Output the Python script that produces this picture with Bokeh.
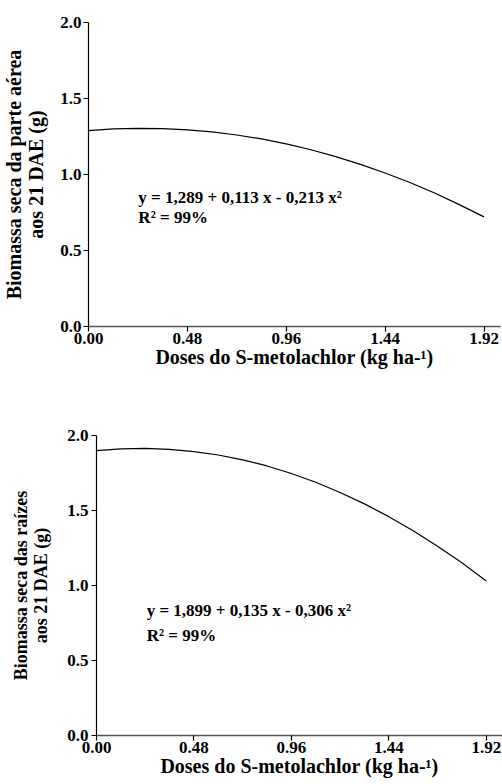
from bokeh.plotting import figure
from bokeh.layouts import column, row
from bokeh.models import FixedTicker, NumeralTickFormatter, ColumnDataSource
from bokeh.core.properties import value
from bokeh.embed import file_html
from bokeh.resources import INLINE

# Data (fitted curves)
doses = [0.00, 0.12, 0.24, 0.36, 0.48, 0.60, 0.72, 0.84, 0.96,
         1.08, 1.20, 1.32, 1.44, 1.56, 1.68, 1.80, 1.92]
parte_aerea = [1.289, 1.300, 1.304, 1.302, 1.294, 1.280, 1.260, 1.234, 1.201,
               1.163, 1.118, 1.067, 1.010, 0.947, 0.878, 0.802, 0.721]
raizes = [1.899, 1.911, 1.914, 1.908, 1.893, 1.870, 1.838, 1.797, 1.747,
          1.688, 1.620, 1.544, 1.459, 1.365, 1.262, 1.151, 1.030]

x_ticks = [0.00, 0.48, 0.96, 1.44, 1.92]
y_ticks = [0.0, 0.5, 1.0, 1.5, 2.0]

x_title = "Doses do S-metolachlor (kg ha-\u00b9)"
y_title_top = "Biomassa seca da parte a\u00e9rea\naos 21 DAE (g)"
y_title_bot = "Biomassa seca das ra\u00edzes\naos 21 DAE (g)"
eq_top = ["y = 1,289 + 0,113 x - 0,213 x\u00b2", "R\u00b2 = 99%"]
eq_bot = ["y = 1,899 + 0,135 x - 0,306 x\u00b2", "R\u00b2 = 99%"]
eq_top_x = [0.242, 0.242]
eq_top_y = [0.847, 0.715]
eq_bot_x = [0.247, 0.247]
eq_bot_y = [0.835, 0.669]

FONT = "Liberation Serif"


def make_fig(width, height, mb_left, mb_top, mb_bottom, mb_right, ys, ytitle,
             ytitle_size, ytick_standoff, ylab_standoff, eq_x, eq_y, eq_txt):
    p = figure(width=width, height=height, x_range=(0, 2.0), y_range=(0, 2.0),
               output_backend="svg", toolbar_location=None,
               min_border_left=mb_left, min_border_top=mb_top,
               min_border_bottom=mb_bottom, min_border_right=mb_right)
    p.outline_line_color = None
    p.xgrid.visible = False
    p.ygrid.visible = False
    p.background_fill_color = "white"
    p.border_fill_color = "white"

    p.line(x=doses, y=ys, line_color="black", line_width=1.2)

    src = ColumnDataSource(dict(x=eq_x, y=eq_y, t=eq_txt))
    p.text(x="x", y="y", text="t", source=src, text_font=value(FONT),
           text_font_style="bold", text_font_size="17px", text_color="black",
           text_align="left", text_baseline="middle")

    for ax in (p.xaxis, p.yaxis):
        ax.major_label_text_font = FONT
        ax.major_label_text_font_style = "bold"
        ax.major_label_text_font_size = "17px"
        ax.major_label_text_color = "black"
        ax.axis_label_text_font = FONT
        ax.axis_label_text_font_style = "bold"
        ax.axis_label_text_color = "black"
        ax.axis_label_text_line_height = 1.0
        ax.minor_tick_line_color = None
        ax.major_tick_in = 0
        ax.major_tick_out = 5
        ax.major_tick_line_color = "black"
        ax.major_tick_line_width = 1.2

    p.xaxis.ticker = FixedTicker(ticks=x_ticks)
    p.xaxis.formatter = NumeralTickFormatter(format="0.00")
    p.xaxis.axis_label = x_title
    p.xaxis.axis_label_text_font_size = "20px"
    p.xaxis.axis_line_color = "#555555"
    p.xaxis.axis_line_width = 1.6
    p.xaxis.major_label_standoff = 1
    p.xaxis.axis_label_standoff = -1

    p.yaxis.ticker = FixedTicker(ticks=y_ticks)
    p.yaxis.formatter = NumeralTickFormatter(format="0.0")
    p.yaxis.axis_label = ytitle
    p.yaxis.axis_label_text_font_size = ytitle_size
    p.yaxis.axis_line_color = "black"
    p.yaxis.axis_line_width = 1.2
    p.yaxis.major_label_standoff = ytick_standoff
    p.yaxis.axis_label_standoff = ylab_standoff
    return p


p1 = make_fig(502, 372, 87, 22, 46, 2, parte_aerea, y_title_top, "20px", 2, 10,
              eq_top_x, eq_top_y, eq_top)
p2 = make_fig(502, 412, 96, 63, 49, 0, raizes, y_title_bot, "18px", 3, 13,
              eq_bot_x, eq_bot_y, eq_bot)

layout = column(row(p1), row(p2), spacing=0)
open("out.html", "w").write(file_html(layout, INLINE))
